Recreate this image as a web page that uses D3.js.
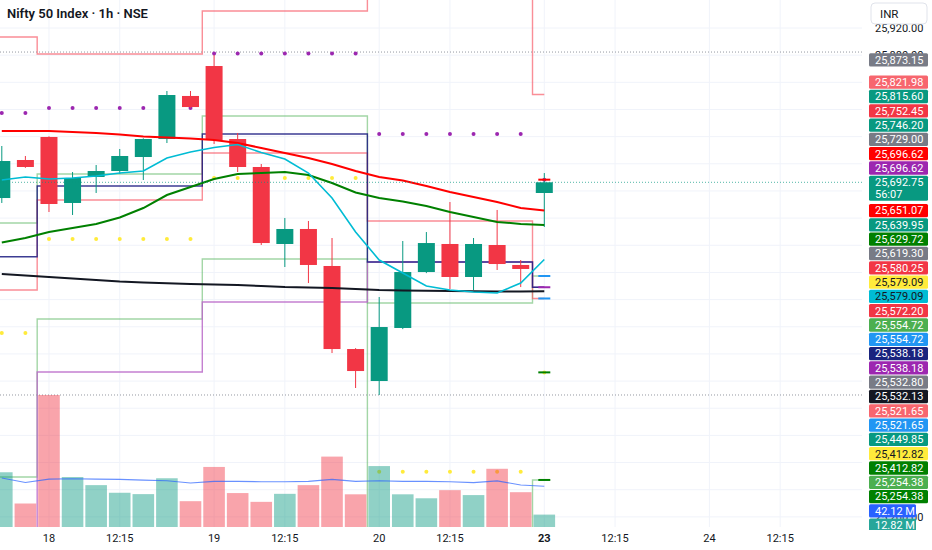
<!DOCTYPE html>
<html lang="en">
<head>
<meta charset="UTF-8">
<title>Nifty 50 Index · 1h · NSE</title>
<script src="https://cdn.jsdelivr.net/npm/d3@7"></script>
<style>
  body { margin: 0; background: #fff; }
  svg { display: block; font-family: Roboto, "Noto Sans", sans-serif; }
</style>
</head>
<body>
<script>
    // hourly bars, 17 (last two) .. 23 (first)
    var times = ["17 14:15", "17 15:15",
        "18 09:15", "18 10:15", "18 11:15", "18 12:15", "18 13:15", "18 14:15", "18 15:15",
        "19 09:15", "19 10:15", "19 11:15", "19 12:15", "19 13:15", "19 14:15", "19 15:15",
        "20 09:15", "20 10:15", "20 11:15", "20 12:15", "20 13:15", "20 14:15", "20 15:15",
        "23 09:15"];
    var open  = [25669.6, 25725.6, 25759.5, 25662.3, 25700.6, 25709.4, 25730.0, 25756.5, 25819.9, 25864.0, 25756.5, 25715.3,
                 25601.9, 25624.0, 25569.5, 25447.2, 25400.1, 25478.2, 25560.6, 25601.9, 25553.3, 25600.4, 25571.0, 25677.0];
    var high  = [25746.2, 25731.5, 25760.5, 25707.9, 25718.2, 25741.8, 25757.5, 25827.2, 25827.2, 25880.2, 25765.4, 25719.7,
                 25640.2, 25635.8, 25610.7, 25448.5, 25523.8, 25606.3, 25619.5, 25663.7, 25610.7, 25652.0, 25578.3, 25706.4];
    var low   = [25662.3, 25714.0, 25649.0, 25644.6, 25677.0, 25705.0, 25696.1, 25750.6, 25802.5, 25749.2, 25707.9, 25600.4,
                 25568.0, 25544.4, 25441.3, 25389.8, 25379.5, 25476.5, 25559.0, 25535.6, 25534.1, 25563.6, 25538.5, 25626.9];
    var close = [25724.1, 25715.3, 25660.8, 25699.1, 25709.4, 25731.5, 25756.5, 25821.3, 25803.6, 25755.0, 25715.3, 25603.3,
                 25624.0, 25571.0, 25447.2, 25414.8, 25479.6, 25560.6, 25603.3, 25553.3, 25601.9, 25572.4, 25565.1, 25692.75];

    // volume in millions + its average
    var volume   = [56.6, 24.3, 136.5, 51.7, 43.3, 35.4, 34.0, 50.4, 26.7, 62.1, 35.1, 26.0,
                    34.3, 43.3, 72.8, 33.8, 63.0, 33.8, 29.7, 38.1, 33.0, 60.2, 36.0, 12.82];
    var volumeMA = [50.7, 46.1, 49.5, 49.9, 49.5, 49.2, 48.5, 47.9, 45.5, 47.2, 47.2, 46.8,
                    46.8, 47.2, 49.2, 47.2, 47.9, 47.2, 47.2, 46.8, 45.9, 47.7, 43.4, 42.12];

    // moving averages
    var maCyan  = [25696.1, 25700.6, 25697.6, 25699.1, 25702.0, 25706.4, 25709.4, 25728.5, 25737.4, 25744.0, 25748.4, 25736.6,
                   25727.1, 25706.4, 25669.6, 25619.5, 25578.3, 25559.2, 25540.0, 25534.1, 25531.2, 25529.7, 25544.4, 25579.09];
    var maGreen = [25604.1, 25610.7, 25619.5, 25625.4, 25631.3, 25640.9, 25654.9, 25674.0, 25685.8, 25697.6, 25705.0, 25706.4,
                   25707.9, 25703.5, 25691.7, 25677.7, 25669.6, 25664.5, 25657.8, 25649.0, 25641.6, 25634.3, 25631.5, 25629.72];
    var maRed   = [25768.3, 25768.3, 25768.3, 25766.8, 25765.4, 25763.1, 25760.2, 25758.7, 25757.3, 25755.0, 25750.6, 25743.3,
                   25735.9, 25728.5, 25719.7, 25709.4, 25700.6, 25695.4, 25687.3, 25678.5, 25671.1, 25663.7, 25654.9, 25651.07];
    var maBlack = [25557.7, 25555.5, 25553.3, 25551.1, 25548.9, 25546.6, 25545.2, 25544.0, 25543.0, 25542.2, 25541.5, 25540.0,
                   25538.5, 25537.8, 25537.1, 25535.6, 25534.1, 25533.4, 25533.0, 25532.7, 25532.4, 25532.1, 25531.9, 25532.13];

    // daily levels (one value per day), off-chart ones are beyond the visible range
    var levelDays      = ["17", "18", "19", "20", "23"];
    var levelPinkTop   = [25906.7, 25881.7, 25945.0, 26000.0, 25821.98];
    var levelPinkLow   = [25534.1, 25666.7, 25735.9, 25635.8, 25521.65];
    var levelGreenTop  = [25632.8, 25705.0, 25790.4, 25100.0, 25254.38];
    var levelGreenLow  = [25258.7, 25491.4, 25579.8, 25515.0, 25554.72];
    var levelPurple    = [25100.0, 25413.4, 25516.5, 25575.4, 25538.18];
    var levelNavy      = [25583.2, 25687.3, 25763.9, 25575.4, 25538.18];
    var dotsPurple     = [25794.8, 25802.2, 25882.4, 25763.9, 25696.62];
    var dotsYellow     = [25470.8, 25609.2, 25699.1, 25266.5, 25412.82];

    // short marks on the last bar
    var lastMarks = [25696.62, 25554.72, 25538.18, 25521.65, 25412.82, 25254.38];

    // dotted horizontal lines
    var highLine = 25884.6, lowLine = 25379.5;

    // price scale labels
    var axisLabelValues = [25873.15, 25821.98, 25815.60, 25752.45, 25746.20, 25729.00, 25696.62, 25696.62, 25692.75,
        25651.07, 25639.95, 25629.72, 25619.30, 25580.25, 25579.09, 25579.09, 25572.20, 25554.72, 25554.72,
        25538.18, 25538.18, 25532.80, 25532.13, 25521.65, 25521.65, 25449.85, 25412.82, 25412.82, 25254.38, 25254.38];
    var axisLabelKinds = ["gray", "pink", "teal", "red", "teal", "gray", "pure", "purple", "last",
        "pure", "teal", "dgreen", "gray", "red", "yellow", "cyan", "red", "green", "blue",
        "navy", "purple", "gray", "black", "pink", "blue", "teal", "yellow", "dgreen", "green", "dgreen"];
    var volumeLabelValues = [42.12, 12.82];
    var countdown = "56:07";

    var priceTicks = [25920, 25880, 25840, 25800, 25760, 25720, 25680, 25640, 25600,
                      25560, 25520, 25480, 25440, 25400, 25360, 25320, 25280, 25240, 25200];
    var timeTickPos  = [2, 5, 9, 12, 16, 19, 23, 26, 30, 33];
    var timeTickText = ["18", "12:15", "19", "12:15", "20", "12:15", "23", "12:15", "24", "12:15"];

    // ---------------------------------------------------------------
    var W = 932, H = 550, paneW = 862, paneH = 527;
    var green = "#089981", red = "#f23645";

    var svg = d3.select("body").append("svg")
        .attr("width", W).attr("height", H);

    var x = d3.scaleLinear().domain([0, 23]).range([1.8, 544.3]);
    var y = d3.scaleLinear().domain([25200, 25920]).range([28 + 720 * 0.679, 28]);
    var yv = d3.scaleLinear().domain([0, 136.5]).range([paneH, 395]);

    svg.append("clipPath").attr("id", "pane")
        .append("rect").attr("width", paneW).attr("height", paneH);
    svg.append("clipPath").attr("id", "scale")
        .append("rect").attr("x", paneW).attr("width", W - paneW).attr("height", 530);

    var pane = svg.append("g").attr("clip-path", "url(#pane)");

    // grid
    pane.selectAll(".hgrid").data(priceTicks).enter().append("line")
        .attr("x1", 0).attr("x2", paneW)
        .attr("y1", function (d) { return y(d); }).attr("y2", function (d) { return y(d); })
        .attr("stroke", "#f0f3fa");
    pane.selectAll(".vgrid").data(timeTickPos).enter().append("line")
        .attr("y1", 0).attr("y2", paneH)
        .attr("x1", function (d) { return x(d); }).attr("x2", function (d) { return x(d); })
        .attr("stroke", "#f0f3fa");

    // day spans in bar units
    var spans = levelDays.map(function (d, k) {
        var idx = [];
        times.forEach(function (t, i) { if (t.slice(0, 2) === d) idx.push(i); });
        var s = idx[0] - 0.5, e = idx[idx.length - 1] + 0.5;
        if (k === 0) s -= 2;
        if (k === levelDays.length - 1) e = idx[idx.length - 1];
        return [s, e];
    });
    function dayOf(i) { return levelDays.indexOf(times[i].slice(0, 2)); }

    var stepLine = d3.line().x(function (p) { return x(p[0]); }).y(function (p) { return y(p[1]); });
    function stepPoints(vals) {
        var pts = [];
        vals.forEach(function (v, k) { pts.push([spans[k][0], v]); pts.push([spans[k][1], v]); });
        return pts;
    }
    function drawStep(vals, color, op) {
        pane.append("path").attr("d", stepLine(stepPoints(vals)))
            .attr("fill", "none").attr("stroke", color).attr("stroke-width", 1.4)
            .attr("stroke-opacity", op);
    }
    drawStep(levelGreenTop, "#66bb6a", 0.6);
    drawStep(levelGreenLow, "#66bb6a", 0.6);
    drawStep(levelPurple, "#ba68c8", 0.85);
    drawStep(levelPinkTop, "#f7525f", 0.65);
    drawStep(levelPinkLow, "#f7525f", 0.65);
    drawStep(levelNavy, "#1a1a80", 0.85);

    // dotted lines
    [highLine, lowLine].forEach(function (v) {
        pane.append("line").attr("x1", 0).attr("x2", paneW).attr("y1", y(v)).attr("y2", y(v))
            .attr("stroke", "#9598a1").attr("stroke-dasharray", "1,2");
    });

    // dots
    function drawDots(vals, color) {
        pane.selectAll(null).data(times).enter().append("circle")
            .attr("cx", function (d, i) { return x(i); })
            .attr("cy", function (d, i) { return y(vals[dayOf(i)]); })
            .attr("r", 2).attr("fill", color);
    }
    drawDots(dotsPurple, "#9c27b0");
    drawDots(dotsYellow, "#ffeb3b");

    // volume
    pane.selectAll(".vol").data(volume).enter().append("rect")
        .attr("x", function (d, i) { return x(i) - 10.8; })
        .attr("width", 21.6)
        .attr("y", function (d) { return yv(d); })
        .attr("height", function (d) { return paneH - yv(d); })
        .attr("fill", function (d, i) { return close[i] >= open[i] ? green : red; })
        .attr("fill-opacity", 0.45);
    pane.append("path")
        .attr("d", d3.line().x(function (d, i) { return x(i); }).y(function (d) { return yv(d); })(volumeMA))
        .attr("fill", "none").attr("stroke", "#2962ff").attr("stroke-opacity", 0.7).attr("stroke-width", 1.1);

    // candles
    var candle = pane.selectAll(".candle").data(times).enter().append("g");
    candle.append("line")
        .attr("x1", function (d, i) { return x(i); }).attr("x2", function (d, i) { return x(i); })
        .attr("y1", function (d, i) { return y(high[i]); }).attr("y2", function (d, i) { return y(low[i]); })
        .attr("stroke", function (d, i) { return close[i] >= open[i] ? green : red; });
    candle.append("rect")
        .attr("x", function (d, i) { return x(i) - 8.5; })
        .attr("width", 17)
        .attr("y", function (d, i) { return y(Math.max(open[i], close[i])); })
        .attr("height", function (d, i) { return Math.max(1, Math.abs(y(open[i]) - y(close[i]))); })
        .attr("fill", function (d, i) { return close[i] >= open[i] ? green : red; });

    // moving averages
    var maLine = d3.line().x(function (d, i) { return x(i); }).y(function (d) { return y(d); });
    [[maBlack, "#131722", 2], [maRed, "#ff0000", 2], [maGreen, "#008000", 2], [maCyan, "#00bcd4", 1.6]]
        .forEach(function (m) {
            pane.append("path").attr("d", maLine(m[0]))
                .attr("fill", "none").attr("stroke", m[1]).attr("stroke-width", m[2]);
        });

    // marks on last bar
    var markColor = ["#ff0000", "#2196f3", "#9c27b0", "#2196f3", "#008000", "#008000"];
    var last = times.length - 1;
    pane.selectAll(".mark").data(lastMarks).enter().append("line")
        .attr("x1", x(last) - 6).attr("x2", x(last) + 6)
        .attr("y1", function (d) { return y(d); }).attr("y2", function (d) { return y(d); })
        .attr("stroke", function (d, i) { return markColor[i]; }).attr("stroke-width", 2);

    // current price line
    pane.append("line").attr("x1", 0).attr("x2", paneW)
        .attr("y1", y(close[last])).attr("y2", y(close[last]))
        .attr("stroke", green).attr("stroke-opacity", 0.7).attr("stroke-dasharray", "1,2");

    // title
    svg.append("text").attr("x", 7).attr("y", 18)
        .attr("font-size", 13).attr("font-weight", 600).attr("fill", "#131722")
        .text("Nifty 50 Index · 1h · NSE");

    // time axis
    svg.selectAll(".tt").data(timeTickPos).enter().append("text")
        .attr("x", function (d) { return x(d); }).attr("y", 542)
        .attr("text-anchor", "middle").attr("font-size", 11).attr("fill", "#131722")
        .attr("font-weight", function (d, i) { return timeTickText[i] === "23" ? 700 : 400; })
        .text(function (d, i) { return timeTickText[i]; });

    // price scale labels, stacked so they never overlap
    var kindColor = {
        gray: "#787b86", pink: "#f7666e", teal: green, red: red, pure: "#ff0000", purple: "#9c27b0",
        last: green, dgreen: "#008000", yellow: "#ffeb3b", cyan: "#00bcd4", green: "#4caf50",
        blue: "#2196f3", navy: "#1a237e", black: "#131722", vma: "#2962ff", vol: "#26a69a"
    };
    var fmt = d3.format(",.2f");
    var labels = axisLabelValues.map(function (v, i) {
        return { ny: y(v), kind: axisLabelKinds[i], text: fmt(v) };
    });
    labels.push({ ny: yv(volumeLabelValues[0]), kind: "vma", text: volumeLabelValues[0].toFixed(2) + " M" });
    labels.push({ ny: yv(volumeLabelValues[1]), kind: "vol", text: volumeLabelValues[1].toFixed(2) + " M" });
    labels.sort(function (a, b) { return a.ny - b.ny; });

    var lh = 13.3, gap = 1;
    var a = labels.findIndex(function (l) { return l.kind === "last"; });
    labels[a].top = labels[a].ny - lh / 2;
    labels[a].h = 2 * lh - 1.6;
    for (var i = a - 1; i >= 0; i--) {
        var cy = Math.min(labels[i].ny, labels[i + 1].top - gap - lh / 2);
        labels[i].top = cy - lh / 2; labels[i].h = lh;
    }
    for (var j = a + 1; j < labels.length; j++) {
        var prev = labels[j - 1];
        var cy2 = Math.max(labels[j].ny, prev.top + prev.h + gap + lh / 2);
        labels[j].top = cy2 - lh / 2; labels[j].h = lh;
    }
    function isNarrow(l) { return l.kind === "vma" || l.kind === "vol"; }

    // tick labels that are completely hidden behind the full-width price labels are left out
    function covered(p) {
        return labels.some(function (l) { return !isNarrow(l) && p >= l.top - gap - 0.5 && p <= l.top + l.h + gap + 0.5; });
    }
    function hidden(ty) { return covered(ty - 4.5) && covered(ty + 4.5) && covered(ty); }

    var scaleG = svg.append("g").attr("clip-path", "url(#scale)");
    scaleG.selectAll(".pt").data(priceTicks.filter(function (d) { return !hidden(y(d)); })).enter().append("text")
        .attr("x", 875).attr("y", function (d) { return y(d); }).attr("dy", "0.35em")
        .attr("font-size", 11).attr("fill", "#131722")
        .text(function (d) { return fmt(d); });

    var lab = scaleG.selectAll(".lab").data(labels).enter().append("g");
    lab.append("rect")
        .attr("x", 869)
        .attr("width", function (d) { return isNarrow(d) ? 47 : 59; })
        .attr("y", function (d) { return d.top; })
        .attr("height", function (d) { return d.h; })
        .attr("rx", 1.5)
        .attr("fill", function (d) { return kindColor[d.kind]; });
    lab.append("text")
        .attr("x", 875)
        .attr("y", function (d) { return d.top + lh / 2; }).attr("dy", "0.35em")
        .attr("font-size", 11)
        .attr("fill", function (d) { return d.kind === "yellow" || d.kind === "cyan" ? "#131722" : "#fff"; })
        .text(function (d) { return d.text; });
    scaleG.append("text")
        .attr("x", 875).attr("y", labels[a].top + lh / 2 + 12.3).attr("dy", "0.35em")
        .attr("font-size", 11).attr("fill", "#fff")
        .text(countdown);

    // currency box
    svg.append("rect").attr("x", 871).attr("y", 3).attr("width", 56).attr("height", 21).attr("rx", 4)
        .attr("fill", "#fff").attr("stroke", "#e0e3eb");
    svg.append("text").attr("x", 880).attr("y", 13.5).attr("dy", "0.35em")
        .attr("font-size", 11.5).attr("fill", "#131722").text("INR");
</script>
</body>
</html>
